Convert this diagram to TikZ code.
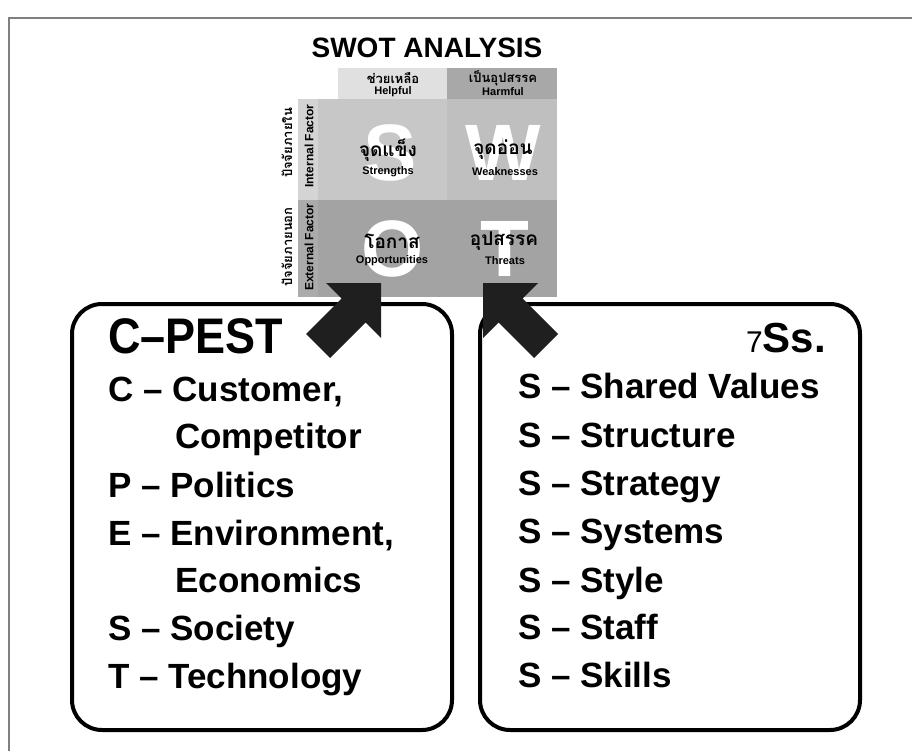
\documentclass[tikz,border=0pt]{standalone}
\usepackage{fontspec}
\setmainfont{Liberation Sans}
\newfontfamily\thaifont[Script=Thai]{Loma}
\definecolor{cHelp}{gray}{0.88}
\definecolor{cHarm}{gray}{0.66}
\definecolor{cInt}{gray}{0.78}
\definecolor{cIntW}{gray}{0.75}
\definecolor{cExt}{gray}{0.64}
\definecolor{cIntLab}{gray}{0.83}
\definecolor{cExtLab}{gray}{0.67}
\definecolor{arrowcol}{gray}{0.12}
\definecolor{framecol}{gray}{0.5}
\tikzset{
  cellbox/.style={rectangle, inner sep=0pt, anchor=north west, draw=none},
  bigletter/.style={text=white, font=\bfseries\fontsize{80}{80}\selectfont, inner sep=0pt},
  thaiword/.style={font=\thaifont\bfseries\fontsize{19}{19}\selectfont, inner sep=0pt},
  thaihead/.style={font=\thaifont\bfseries\fontsize{13}{13}\selectfont, inner sep=0pt},
  thaiside/.style={font=\thaifont\bfseries\fontsize{13}{13}\selectfont, inner sep=0pt, rotate=90},
  engsmall/.style={font=\bfseries\fontsize{11}{11}\selectfont, inner sep=0pt},
  engside/.style={font=\bfseries\fontsize{12}{12}\selectfont, inner sep=0pt, rotate=90},
  listtext/.style={font=\bfseries\fontsize{35}{40}\selectfont, anchor=base west, inner sep=0pt},
  panel/.style={draw, line width=4pt, rounded corners=30pt, inner sep=0pt, anchor=north west},
  blockarrow/.style={fill=arrowcol, draw=none}
}
\begin{document}
\begin{tikzpicture}[x=1pt,y=-1pt]
\useasboundingbox (0,0) rectangle (912,751);
% frame
\draw[framecol, line width=1.2pt] (9,751) -- (9,18) -- (912,18);
% title
\node[font=\bfseries\fontsize{28}{28}\selectfont, inner sep=0pt] (title) at (427,48) {SWOT ANALYSIS};
% header cells
\node[cellbox, fill=cHelp, minimum width=109pt, minimum height=31pt] (hdrHelp) at (338,68) {};
\node[cellbox, fill=cHarm, minimum width=110pt, minimum height=31pt] (hdrHarm) at (447,68) {};
% internal row
\node[cellbox, fill=cIntLab, minimum width=20pt, minimum height=101pt] (intLab) at (298,99) {};
\node[cellbox, fill=cInt, minimum width=129pt, minimum height=101pt] (cellS) at (318,99) {};
\node[cellbox, fill=cIntW, minimum width=110pt, minimum height=101pt] (cellW) at (447,99) {};
% external row
\node[cellbox, fill=cExtLab, minimum width=20pt, minimum height=97pt] (extLab) at (298,200) {};
\node[cellbox, fill=cExt, minimum width=129pt, minimum height=97pt] (cellO) at (318,200) {};
\node[cellbox, fill=cExt, minimum width=110pt, minimum height=97pt] (cellT) at (447,200) {};
% big letters
\node[bigletter] (bigS) at (390,153) {S};
\node[bigletter] (bigW) at (503,153) {W};
\node[bigletter] (bigO) at (393,249) {O};
\node[bigletter] (bigT) at (505,249) {T};
% header texts
\node[thaihead] (thHelp) at (393,78) {ช่วยเหลือ};
\node[engsmall] (enHelp) at (393,92) {Helpful};
\node[thaihead] (thHarm) at (503,78) {เป็นอุปสรรค};
\node[engsmall] (enHarm) at (503,92) {Harmful};
% cell texts
\node[thaiword] (thS) at (388,150) {จุดแข็ง};
\node[engsmall] (enS) at (388,172) {Strengths};
\node[thaiword] (thW) at (503,150) {จุดอ่อน};
\node[engsmall] (enW) at (505,172) {Weaknesses};
\node[thaiword] (thO) at (392,241) {โอกาส};
\node[engsmall] (enO) at (392,261) {Opportunities};
\node[thaiword] (thT) at (504,241) {อุปสรรค};
\node[engsmall] (enT) at (505,261) {Threats};
% side labels
\node[thaiside] (thInt) at (287,143) {ปัจจัยภายใน};
\node[engside] (enInt) at (309,146) {Internal Factor};
\node[thaiside] (thExt) at (287,247) {ปัจจัยภายนอก};
\node[engside] (enExt) at (309,247) {External Factor};
% panels
\node[panel, minimum width=380pt, minimum height=426pt] (pestbox) at (70,302) {};
\node[panel, minimum width=380pt, minimum height=426pt] (sbox) at (478,302) {};
% C-PEST text
\node[font=\bfseries\fontsize{50}{50}\selectfont, anchor=base west, inner sep=0pt] (pesttitle) at (108,353) {\scalebox{0.9}[1]{C–PEST}};
\node[listtext] (pC) at (108,401) {C – Customer,};
\node[listtext] (pC2) at (175,448) {Competitor};
\node[listtext] (pP) at (108,497) {P – Politics};
\node[listtext] (pE) at (108,545) {E – Environment,};
\node[listtext] (pE2) at (175,592) {Economics};
\node[listtext] (pS) at (108,640) {S – Society};
\node[listtext] (pT) at (108,688) {T – Technology};
% 7Ss text
\node[anchor=base east, inner sep=0pt] (stitle) at (826,352) {{\fontsize{30}{30}\selectfont 7}{\bfseries\fontsize{42}{42}\selectfont Ss.}};
\node[listtext] (s1) at (518,398) {S – Shared Values};
\node[listtext] (s2) at (518,447) {S – Structure};
\node[listtext] (s3) at (518,495) {S – Strategy};
\node[listtext] (s4) at (518,543) {S – Systems};
\node[listtext] (s5) at (518,592) {S – Style};
\node[listtext] (s6) at (518,639) {S – Staff};
\node[listtext] (s7) at (518,687) {S – Skills};
% block arrows
\fill[blockarrow] (381,283) -- (326,283) -- (341.5,298.5) -- (306,334) -- (330,358) -- (365.5,322.5) -- (381,338) -- cycle;
\fill[blockarrow] (483,283) -- (538,283) -- (522.5,298.5) -- (558,334) -- (534,358) -- (498.5,322.5) -- (483,338) -- cycle;
\end{tikzpicture}
\end{document}
